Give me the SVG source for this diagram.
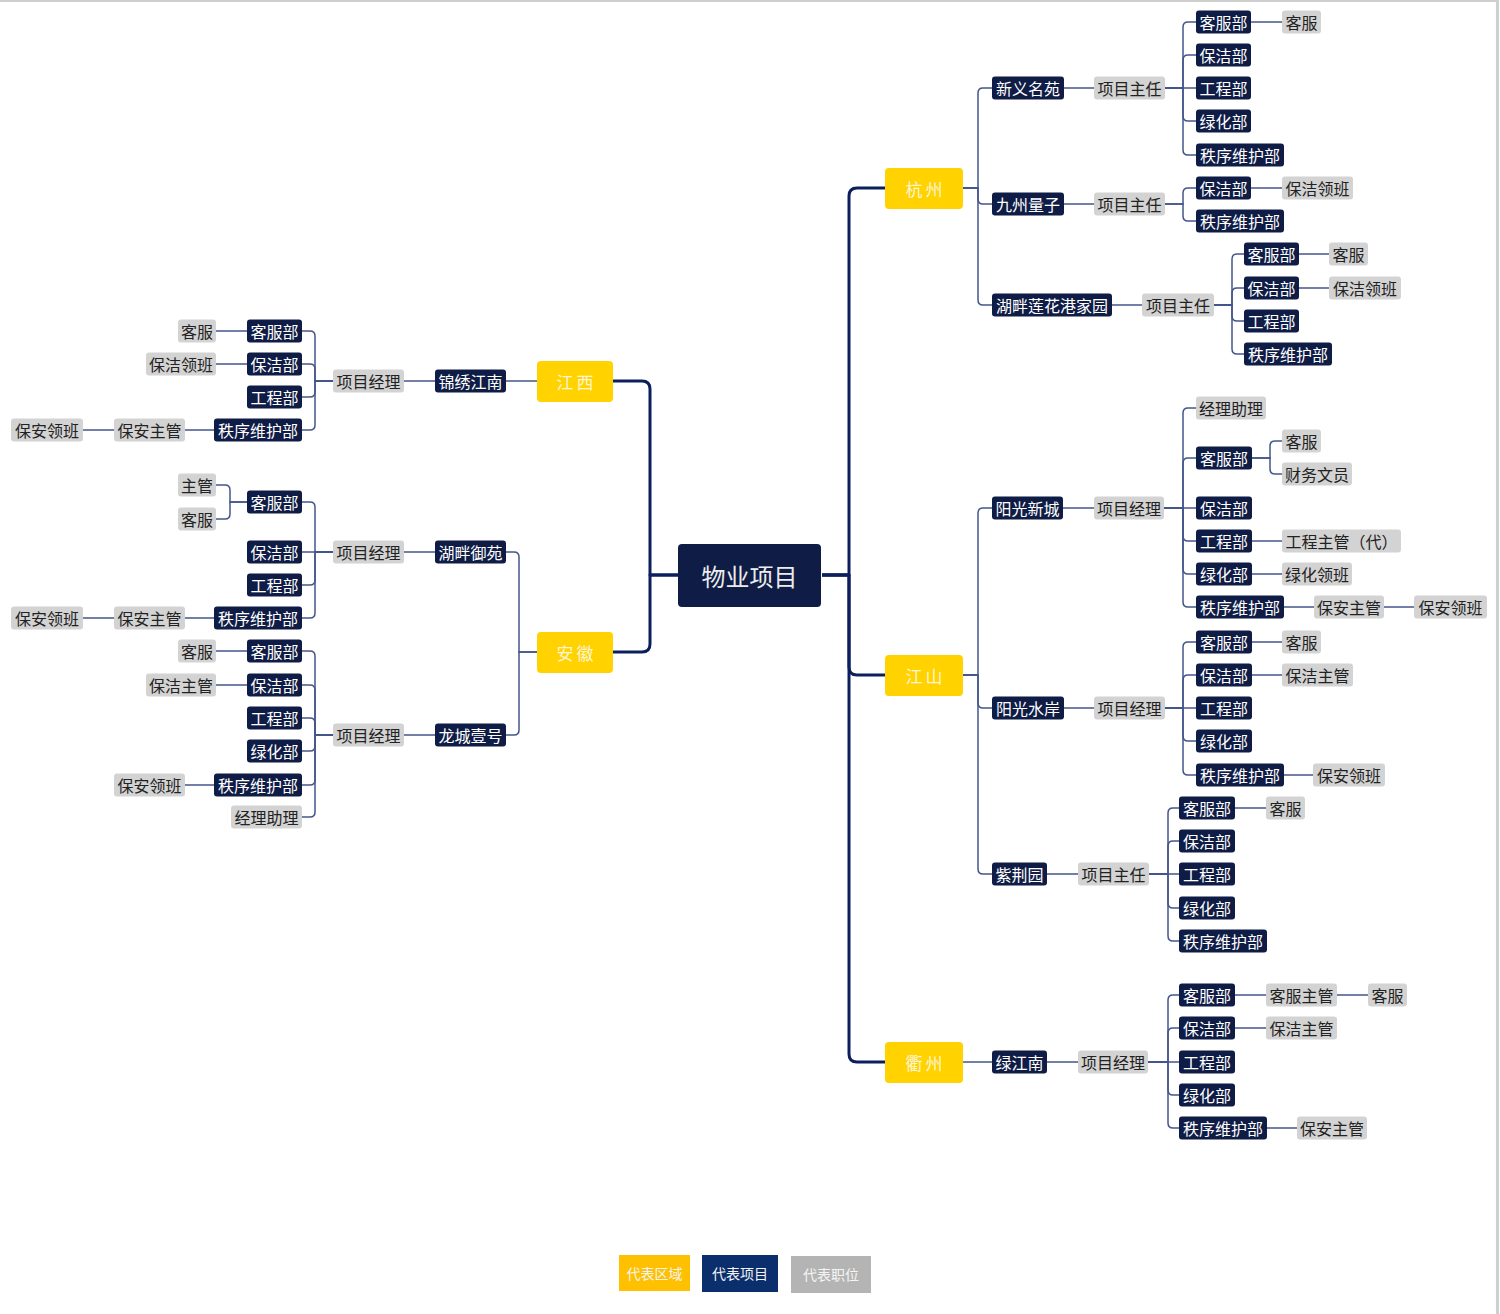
<svg xmlns="http://www.w3.org/2000/svg" width="1500" height="1314" viewBox="0 0 1500 1314">
<style>
.bg{fill:#ffffff}
.n{fill:#0f1c45}
.g{fill:#d3d3d3}
.y{fill:#ffd200}
text{font-family:"Noto Sans CJK SC","Liberation Sans",sans-serif;text-anchor:middle;dominant-baseline:central}
.tn{fill:#ffffff;font-size:16px}
.tg{fill:#222222;font-size:16px}
.ty{fill:#fff6d6;font-size:17px;letter-spacing:3px}
.thick{fill:none;stroke:#0b1f5c;stroke-width:3;stroke-linejoin:round}
.thin{fill:none;stroke:#44558a;stroke-width:1.5}
.lg{font-size:14px;fill:#f4f4f4}
</style>
<rect class="bg" x="0" y="0" width="1500" height="1314"/>
<line x1="0" y1="1" x2="1498" y2="1" stroke="#cfcfcf" stroke-width="2"/>
<line x1="1497.5" y1="0" x2="1497.5" y2="1314" stroke="#cfcfcf" stroke-width="3"/>

<g id="connectors">
<path class="thick" d="M822,575 H849 V196 Q849,188 857,188 H885"/>
<path class="thick" d="M822,575 H849 V667 Q849,675 857,675 H885"/>
<path class="thick" d="M822,575 H849 V1054 Q849,1062 857,1062 H885"/>
<path class="thick" d="M678,575 H650 V389 Q650,381 642,381 H613"/>
<path class="thick" d="M678,575 H650 V644 Q650,652 642,652 H613"/>

<path class="thin" d="M963,188 H978 V93 Q978,88 983,88 H992"/>
<path class="thin" d="M963,188 H978 V199 Q978,204 983,204 H992"/>
<path class="thin" d="M963,188 H978 V300 Q978,305 983,305 H992"/>
<path class="thin" d="M1064,88 H1094"/>
<path class="thin" d="M1165,88 H1183 V27 Q1183,22 1188,22 H1196"/>
<path class="thin" d="M1165,88 H1183 V60 Q1183,55 1188,55 H1196"/>
<path class="thin" d="M1165,88 H1196"/>
<path class="thin" d="M1165,88 H1183 V116 Q1183,121 1188,121 H1196"/>
<path class="thin" d="M1165,88 H1183 V150 Q1183,155 1188,155 H1196"/>
<path class="thin" d="M1251,22 H1282"/>
<path class="thin" d="M1064,204 H1094"/>
<path class="thin" d="M1165,204 H1183 V193 Q1183,188 1188,188 H1196"/>
<path class="thin" d="M1165,204 H1183 V216 Q1183,221 1188,221 H1196"/>
<path class="thin" d="M1251,188 H1282"/>
<path class="thin" d="M1112,305 H1142"/>
<path class="thin" d="M1214,305 H1232 V259 Q1232,254 1237,254 H1244"/>
<path class="thin" d="M1214,305 H1232 V293 Q1232,288 1237,288 H1244"/>
<path class="thin" d="M1214,305 H1232 V316 Q1232,321 1237,321 H1244"/>
<path class="thin" d="M1214,305 H1232 V349 Q1232,354 1237,354 H1244"/>
<path class="thin" d="M1299,254 H1329"/>
<path class="thin" d="M1299,288 H1329"/>

<path class="thin" d="M963,675 H978 V513 Q978,508 983,508 H992"/>
<path class="thin" d="M963,675 H978 V703 Q978,708 983,708 H992"/>
<path class="thin" d="M963,675 H978 V869 Q978,874 983,874 H992"/>
<path class="thin" d="M1063,508 H1094"/>
<path class="thin" d="M1164,508 H1183 V413 Q1183,408 1188,408 H1196"/>
<path class="thin" d="M1164,508 H1183 V463 Q1183,458 1188,458 H1196"/>
<path class="thin" d="M1164,508 H1196"/>
<path class="thin" d="M1164,508 H1183 V536 Q1183,541 1188,541 H1196"/>
<path class="thin" d="M1164,508 H1183 V569 Q1183,574 1188,574 H1196"/>
<path class="thin" d="M1164,508 H1183 V602 Q1183,607 1188,607 H1196"/>
<path class="thin" d="M1252,458 H1270 V446 Q1270,441 1275,441 H1282"/>
<path class="thin" d="M1252,458 H1270 V469 Q1270,474 1275,474 H1282"/>
<path class="thin" d="M1252,541 H1282"/>
<path class="thin" d="M1252,574 H1282"/>
<path class="thin" d="M1284,607 H1314"/>
<path class="thin" d="M1384,607 H1414"/>
<path class="thin" d="M1064,708 H1094"/>
<path class="thin" d="M1165,708 H1183 V647 Q1183,642 1188,642 H1196"/>
<path class="thin" d="M1165,708 H1183 V680 Q1183,675 1188,675 H1196"/>
<path class="thin" d="M1165,708 H1196"/>
<path class="thin" d="M1165,708 H1183 V736 Q1183,741 1188,741 H1196"/>
<path class="thin" d="M1165,708 H1183 V770 Q1183,775 1188,775 H1196"/>
<path class="thin" d="M1252,642 H1282"/>
<path class="thin" d="M1252,675 H1282"/>
<path class="thin" d="M1284,775 H1313"/>
<path class="thin" d="M1047,874 H1078"/>
<path class="thin" d="M1149,874 H1168 V813 Q1168,808 1173,808 H1179"/>
<path class="thin" d="M1149,874 H1168 V846 Q1168,841 1173,841 H1179"/>
<path class="thin" d="M1149,874 H1179"/>
<path class="thin" d="M1149,874 H1168 V903 Q1168,908 1173,908 H1179"/>
<path class="thin" d="M1149,874 H1168 V936 Q1168,941 1173,941 H1179"/>
<path class="thin" d="M1235,808 H1266"/>

<path class="thin" d="M963,1062 H992"/>
<path class="thin" d="M1047,1062 H1078"/>
<path class="thin" d="M1148,1062 H1168 V1000 Q1168,995 1173,995 H1179"/>
<path class="thin" d="M1148,1062 H1168 V1033 Q1168,1028 1173,1028 H1179"/>
<path class="thin" d="M1148,1062 H1179"/>
<path class="thin" d="M1148,1062 H1168 V1090 Q1168,1095 1173,1095 H1179"/>
<path class="thin" d="M1148,1062 H1168 V1123 Q1168,1128 1173,1128 H1179"/>
<path class="thin" d="M1235,995 H1266"/>
<path class="thin" d="M1337,995 H1368"/>
<path class="thin" d="M1235,1028 H1266"/>
<path class="thin" d="M1267,1128 H1297"/>

<path class="thin" d="M537,381 H506"/>
<path class="thin" d="M435,381 H404"/>
<path class="thin" d="M333,381 H315 V336 Q315,331 310,331 H302"/>
<path class="thin" d="M333,381 H315 V369 Q315,364 310,364 H302"/>
<path class="thin" d="M333,381 H315 V392 Q315,397 310,397 H302"/>
<path class="thin" d="M333,381 H315 V425 Q315,430 310,430 H302"/>
<path class="thin" d="M247,331 H216"/>
<path class="thin" d="M247,364 H216"/>
<path class="thin" d="M214,430 H185"/>
<path class="thin" d="M114,430 H83"/>

<path class="thin" d="M537,652 H519 V557 Q519,552 514,552 H506"/>
<path class="thin" d="M537,652 H519 V730 Q519,735 514,735 H506"/>
<path class="thin" d="M435,552 H404"/>
<path class="thin" d="M333,552 H315 V507 Q315,502 310,502 H302"/>
<path class="thin" d="M333,552 H302"/>
<path class="thin" d="M333,552 H315 V580 Q315,585 310,585 H302"/>
<path class="thin" d="M333,552 H315 V613 Q315,618 310,618 H302"/>
<path class="thin" d="M247,502 H230 V490 Q230,485 225,485 H216"/>
<path class="thin" d="M247,502 H230 V514 Q230,519 225,519 H216"/>
<path class="thin" d="M214,618 H185"/>
<path class="thin" d="M114,618 H83"/>
<path class="thin" d="M435,735 H404"/>
<path class="thin" d="M333,735 H315 V656 Q315,651 310,651 H302"/>
<path class="thin" d="M333,735 H315 V690 Q315,685 310,685 H302"/>
<path class="thin" d="M333,735 H315 V723 Q315,718 310,718 H302"/>
<path class="thin" d="M333,735 H315 V746 Q315,751 310,751 H302"/>
<path class="thin" d="M333,735 H315 V780 Q315,785 310,785 H302"/>
<path class="thin" d="M333,735 H315 V812 Q315,817 310,817 H302"/>
<path class="thin" d="M247,651 H216"/>
<path class="thin" d="M247,685 H216"/>
<path class="thin" d="M214,785 H185"/>
</g>

<g id="root"><rect class="n" x="678" y="544" width="143" height="63" rx="4"/><text x="749.5" y="575" style="fill:#ececec;font-size:24px">物业项目</text></g>

<g id="hangzhou"><rect class="y" x="885" y="168" width="78" height="41" rx="4"/><text class="ty" x="925.5" y="188.5">杭州</text></g>
<g id="jiangshan"><rect class="y" x="885" y="655" width="78" height="41" rx="4"/><text class="ty" x="925.5" y="675.5">江山</text></g>
<g id="quzhou"><rect class="y" x="885" y="1042" width="78" height="41" rx="4"/><text class="ty" x="925.5" y="1062.5">衢州</text></g>
<g id="jiangxi"><rect class="y" x="537" y="361" width="76" height="41" rx="4"/><text class="ty" x="576.5" y="381.5">江西</text></g>
<g id="anhui"><rect class="y" x="537" y="632" width="76" height="41" rx="4"/><text class="ty" x="576.5" y="652.5">安徽</text></g>

<g id="xinyi"><rect class="n" x="992" y="76.5" width="72" height="23" rx="3"/><text class="tn" x="1028" y="88">新义名苑</text></g>
<g id="xinyi-zr"><rect class="g" x="1094" y="76.5" width="71" height="23" rx="3"/><text class="tg" x="1129.5" y="88">项目主任</text></g>
<g id="xinyi-kf"><rect class="n" x="1196" y="10.5" width="55" height="23" rx="3"/><text class="tn" x="1223.5" y="22">客服部</text></g>
<g id="xinyi-kf-1"><rect class="g" x="1282" y="10.5" width="39" height="23" rx="3"/><text class="tg" x="1301.5" y="22">客服</text></g>
<g id="xinyi-bj"><rect class="n" x="1196" y="43.5" width="55" height="23" rx="3"/><text class="tn" x="1223.5" y="55">保洁部</text></g>
<g id="xinyi-gc"><rect class="n" x="1196" y="76.5" width="55" height="23" rx="3"/><text class="tn" x="1223.5" y="88">工程部</text></g>
<g id="xinyi-lh"><rect class="n" x="1196" y="109.5" width="55" height="23" rx="3"/><text class="tn" x="1223.5" y="121">绿化部</text></g>
<g id="xinyi-zx"><rect class="n" x="1196" y="143.5" width="88" height="23" rx="3"/><text class="tn" x="1240" y="155">秩序维护部</text></g>

<g id="jiuzhou"><rect class="n" x="992" y="192.5" width="72" height="23" rx="3"/><text class="tn" x="1028" y="204">九州量子</text></g>
<g id="jiuzhou-zr"><rect class="g" x="1094" y="192.5" width="71" height="23" rx="3"/><text class="tg" x="1129.5" y="204">项目主任</text></g>
<g id="jiuzhou-bj"><rect class="n" x="1196" y="176.5" width="55" height="23" rx="3"/><text class="tn" x="1223.5" y="188">保洁部</text></g>
<g id="jiuzhou-bj-1"><rect class="g" x="1282" y="176.5" width="71" height="23" rx="3"/><text class="tg" x="1317.5" y="188">保洁领班</text></g>
<g id="jiuzhou-zx"><rect class="n" x="1196" y="209.5" width="88" height="23" rx="3"/><text class="tn" x="1240" y="221">秩序维护部</text></g>

<g id="hupan"><rect class="n" x="992" y="293.5" width="120" height="23" rx="3"/><text class="tn" x="1052" y="305">湖畔莲花港家园</text></g>
<g id="hupan-zr"><rect class="g" x="1142" y="293.5" width="72" height="23" rx="3"/><text class="tg" x="1178" y="305">项目主任</text></g>
<g id="hupan-kf"><rect class="n" x="1244" y="242.5" width="55" height="23" rx="3"/><text class="tn" x="1271.5" y="254">客服部</text></g>
<g id="hupan-kf-1"><rect class="g" x="1329" y="242.5" width="39" height="23" rx="3"/><text class="tg" x="1348.5" y="254">客服</text></g>
<g id="hupan-bj"><rect class="n" x="1244" y="276.5" width="55" height="23" rx="3"/><text class="tn" x="1271.5" y="288">保洁部</text></g>
<g id="hupan-bj-1"><rect class="g" x="1329" y="276.5" width="72" height="23" rx="3"/><text class="tg" x="1365" y="288">保洁领班</text></g>
<g id="hupan-gc"><rect class="n" x="1244" y="309.5" width="55" height="23" rx="3"/><text class="tn" x="1271.5" y="321">工程部</text></g>
<g id="hupan-zx"><rect class="n" x="1244" y="342.5" width="88" height="23" rx="3"/><text class="tn" x="1288" y="354">秩序维护部</text></g>

<g id="ygxc"><rect class="n" x="992" y="496.5" width="71" height="23" rx="3"/><text class="tn" x="1027.5" y="508">阳光新城</text></g>
<g id="ygxc-jl"><rect class="g" x="1094" y="496.5" width="70" height="23" rx="3"/><text class="tg" x="1129" y="508">项目经理</text></g>
<g id="ygxc-zl"><rect class="g" x="1196" y="396.5" width="70" height="23" rx="3"/><text class="tg" x="1231" y="408">经理助理</text></g>
<g id="ygxc-kf"><rect class="n" x="1196" y="446.5" width="56" height="23" rx="3"/><text class="tn" x="1224" y="458">客服部</text></g>
<g id="ygxc-kf-1"><rect class="g" x="1282" y="429.5" width="39" height="23" rx="3"/><text class="tg" x="1301.5" y="441">客服</text></g>
<g id="ygxc-kf-2"><rect class="g" x="1282" y="462.5" width="70" height="23" rx="3"/><text class="tg" x="1317" y="474">财务文员</text></g>
<g id="ygxc-bj"><rect class="n" x="1196" y="496.5" width="56" height="23" rx="3"/><text class="tn" x="1224" y="508">保洁部</text></g>
<g id="ygxc-gc"><rect class="n" x="1196" y="529.5" width="56" height="23" rx="3"/><text class="tn" x="1224" y="541">工程部</text></g>
<g id="ygxc-gc-1"><rect class="g" x="1282" y="529.5" width="119" height="23" rx="3"/><text class="tg" x="1341.5" y="541">工程主管（代）</text></g>
<g id="ygxc-lh"><rect class="n" x="1196" y="562.5" width="56" height="23" rx="3"/><text class="tn" x="1224" y="574">绿化部</text></g>
<g id="ygxc-lh-1"><rect class="g" x="1282" y="562.5" width="70" height="23" rx="3"/><text class="tg" x="1317" y="574">绿化领班</text></g>
<g id="ygxc-zx"><rect class="n" x="1196" y="595.5" width="88" height="23" rx="3"/><text class="tn" x="1240" y="607">秩序维护部</text></g>
<g id="ygxc-zx-1"><rect class="g" x="1314" y="595.5" width="70" height="23" rx="3"/><text class="tg" x="1349" y="607">保安主管</text></g>
<g id="ygxc-zx-2"><rect class="g" x="1414" y="595.5" width="73" height="23" rx="3"/><text class="tg" x="1450.5" y="607">保安领班</text></g>

<g id="ygsa"><rect class="n" x="992" y="696.5" width="72" height="23" rx="3"/><text class="tn" x="1028" y="708">阳光水岸</text></g>
<g id="ygsa-jl"><rect class="g" x="1094" y="696.5" width="71" height="23" rx="3"/><text class="tg" x="1129.5" y="708">项目经理</text></g>
<g id="ygsa-kf"><rect class="n" x="1196" y="630.5" width="56" height="23" rx="3"/><text class="tn" x="1224" y="642">客服部</text></g>
<g id="ygsa-kf-1"><rect class="g" x="1282" y="630.5" width="39" height="23" rx="3"/><text class="tg" x="1301.5" y="642">客服</text></g>
<g id="ygsa-bj"><rect class="n" x="1196" y="663.5" width="56" height="23" rx="3"/><text class="tn" x="1224" y="675">保洁部</text></g>
<g id="ygsa-bj-1"><rect class="g" x="1282" y="663.5" width="71" height="23" rx="3"/><text class="tg" x="1317.5" y="675">保洁主管</text></g>
<g id="ygsa-gc"><rect class="n" x="1196" y="696.5" width="56" height="23" rx="3"/><text class="tn" x="1224" y="708">工程部</text></g>
<g id="ygsa-lh"><rect class="n" x="1196" y="729.5" width="56" height="23" rx="3"/><text class="tn" x="1224" y="741">绿化部</text></g>
<g id="ygsa-zx"><rect class="n" x="1196" y="763.5" width="88" height="23" rx="3"/><text class="tn" x="1240" y="775">秩序维护部</text></g>
<g id="ygsa-zx-1"><rect class="g" x="1313" y="763.5" width="72" height="23" rx="3"/><text class="tg" x="1349" y="775">保安领班</text></g>

<g id="zjy"><rect class="n" x="992" y="862.5" width="55" height="23" rx="3"/><text class="tn" x="1019.5" y="874">紫荆园</text></g>
<g id="zjy-zr"><rect class="g" x="1078" y="862.5" width="71" height="23" rx="3"/><text class="tg" x="1113.5" y="874">项目主任</text></g>
<g id="zjy-kf"><rect class="n" x="1179" y="796.5" width="56" height="23" rx="3"/><text class="tn" x="1207" y="808">客服部</text></g>
<g id="zjy-kf-1"><rect class="g" x="1266" y="796.5" width="39" height="23" rx="3"/><text class="tg" x="1285.5" y="808">客服</text></g>
<g id="zjy-bj"><rect class="n" x="1179" y="829.5" width="56" height="23" rx="3"/><text class="tn" x="1207" y="841">保洁部</text></g>
<g id="zjy-gc"><rect class="n" x="1179" y="862.5" width="56" height="23" rx="3"/><text class="tn" x="1207" y="874">工程部</text></g>
<g id="zjy-lh"><rect class="n" x="1179" y="896.5" width="56" height="23" rx="3"/><text class="tn" x="1207" y="908">绿化部</text></g>
<g id="zjy-zx"><rect class="n" x="1179" y="929.5" width="88" height="23" rx="3"/><text class="tn" x="1223" y="941">秩序维护部</text></g>

<g id="ljn"><rect class="n" x="992" y="1050.5" width="55" height="23" rx="3"/><text class="tn" x="1019.5" y="1062">绿江南</text></g>
<g id="ljn-jl"><rect class="g" x="1078" y="1050.5" width="70" height="23" rx="3"/><text class="tg" x="1113" y="1062">项目经理</text></g>
<g id="ljn-kf"><rect class="n" x="1179" y="983.5" width="56" height="23" rx="3"/><text class="tn" x="1207" y="995">客服部</text></g>
<g id="ljn-kf-1"><rect class="g" x="1266" y="983.5" width="71" height="23" rx="3"/><text class="tg" x="1301.5" y="995">客服主管</text></g>
<g id="ljn-kf-2"><rect class="g" x="1368" y="983.5" width="39" height="23" rx="3"/><text class="tg" x="1387.5" y="995">客服</text></g>
<g id="ljn-bj"><rect class="n" x="1179" y="1016.5" width="56" height="23" rx="3"/><text class="tn" x="1207" y="1028">保洁部</text></g>
<g id="ljn-bj-1"><rect class="g" x="1266" y="1016.5" width="71" height="23" rx="3"/><text class="tg" x="1301.5" y="1028">保洁主管</text></g>
<g id="ljn-gc"><rect class="n" x="1179" y="1050.5" width="56" height="23" rx="3"/><text class="tn" x="1207" y="1062">工程部</text></g>
<g id="ljn-lh"><rect class="n" x="1179" y="1083.5" width="56" height="23" rx="3"/><text class="tn" x="1207" y="1095">绿化部</text></g>
<g id="ljn-zx"><rect class="n" x="1179" y="1116.5" width="88" height="23" rx="3"/><text class="tn" x="1223" y="1128">秩序维护部</text></g>
<g id="ljn-zx-1"><rect class="g" x="1297" y="1116.5" width="70" height="23" rx="3"/><text class="tg" x="1332" y="1128">保安主管</text></g>

<g id="jxjn"><rect class="n" x="435" y="369.5" width="71" height="23" rx="3"/><text class="tn" x="470.5" y="381">锦绣江南</text></g>
<g id="jxjn-jl"><rect class="g" x="333" y="369.5" width="71" height="23" rx="3"/><text class="tg" x="368.5" y="381">项目经理</text></g>
<g id="jxjn-kf"><rect class="n" x="247" y="319.5" width="55" height="23" rx="3"/><text class="tn" x="274.5" y="331">客服部</text></g>
<g id="jxjn-kf-1"><rect class="g" x="178" y="319.5" width="38" height="23" rx="3"/><text class="tg" x="197" y="331">客服</text></g>
<g id="jxjn-bj"><rect class="n" x="247" y="352.5" width="55" height="23" rx="3"/><text class="tn" x="274.5" y="364">保洁部</text></g>
<g id="jxjn-bj-1"><rect class="g" x="146" y="352.5" width="70" height="23" rx="3"/><text class="tg" x="181" y="364">保洁领班</text></g>
<g id="jxjn-gc"><rect class="n" x="247" y="385.5" width="55" height="23" rx="3"/><text class="tn" x="274.5" y="397">工程部</text></g>
<g id="jxjn-zx"><rect class="n" x="214" y="418.5" width="88" height="23" rx="3"/><text class="tn" x="258" y="430">秩序维护部</text></g>
<g id="jxjn-zx-1"><rect class="g" x="114" y="418.5" width="71" height="23" rx="3"/><text class="tg" x="149.5" y="430">保安主管</text></g>
<g id="jxjn-zx-2"><rect class="g" x="11" y="418.5" width="72" height="23" rx="3"/><text class="tg" x="47" y="430">保安领班</text></g>

<g id="hpyy"><rect class="n" x="435" y="540.5" width="71" height="23" rx="3"/><text class="tn" x="470.5" y="552">湖畔御苑</text></g>
<g id="hpyy-jl"><rect class="g" x="333" y="540.5" width="71" height="23" rx="3"/><text class="tg" x="368.5" y="552">项目经理</text></g>
<g id="hpyy-kf"><rect class="n" x="247" y="490.5" width="55" height="23" rx="3"/><text class="tn" x="274.5" y="502">客服部</text></g>
<g id="hpyy-kf-1"><rect class="g" x="178" y="473.5" width="38" height="23" rx="3"/><text class="tg" x="197" y="485">主管</text></g>
<g id="hpyy-kf-2"><rect class="g" x="178" y="507.5" width="38" height="23" rx="3"/><text class="tg" x="197" y="519">客服</text></g>
<g id="hpyy-bj"><rect class="n" x="247" y="540.5" width="55" height="23" rx="3"/><text class="tn" x="274.5" y="552">保洁部</text></g>
<g id="hpyy-gc"><rect class="n" x="247" y="573.5" width="55" height="23" rx="3"/><text class="tn" x="274.5" y="585">工程部</text></g>
<g id="hpyy-zx"><rect class="n" x="214" y="606.5" width="88" height="23" rx="3"/><text class="tn" x="258" y="618">秩序维护部</text></g>
<g id="hpyy-zx-1"><rect class="g" x="114" y="606.5" width="71" height="23" rx="3"/><text class="tg" x="149.5" y="618">保安主管</text></g>
<g id="hpyy-zx-2"><rect class="g" x="11" y="606.5" width="72" height="23" rx="3"/><text class="tg" x="47" y="618">保安领班</text></g>

<g id="lcyh"><rect class="n" x="435" y="723.5" width="71" height="23" rx="3"/><text class="tn" x="470.5" y="735">龙城壹号</text></g>
<g id="lcyh-jl"><rect class="g" x="333" y="723.5" width="71" height="23" rx="3"/><text class="tg" x="368.5" y="735">项目经理</text></g>
<g id="lcyh-kf"><rect class="n" x="247" y="639.5" width="55" height="23" rx="3"/><text class="tn" x="274.5" y="651">客服部</text></g>
<g id="lcyh-kf-1"><rect class="g" x="178" y="639.5" width="38" height="23" rx="3"/><text class="tg" x="197" y="651">客服</text></g>
<g id="lcyh-bj"><rect class="n" x="247" y="673.5" width="55" height="23" rx="3"/><text class="tn" x="274.5" y="685">保洁部</text></g>
<g id="lcyh-bj-1"><rect class="g" x="146" y="673.5" width="70" height="23" rx="3"/><text class="tg" x="181" y="685">保洁主管</text></g>
<g id="lcyh-gc"><rect class="n" x="247" y="706.5" width="55" height="23" rx="3"/><text class="tn" x="274.5" y="718">工程部</text></g>
<g id="lcyh-lh"><rect class="n" x="247" y="739.5" width="55" height="23" rx="3"/><text class="tn" x="274.5" y="751">绿化部</text></g>
<g id="lcyh-zx"><rect class="n" x="214" y="773.5" width="88" height="23" rx="3"/><text class="tn" x="258" y="785">秩序维护部</text></g>
<g id="lcyh-zx-1"><rect class="g" x="114" y="773.5" width="71" height="23" rx="3"/><text class="tg" x="149.5" y="785">保安领班</text></g>
<g id="lcyh-zl"><rect class="g" x="231" y="805.5" width="71" height="23" rx="3"/><text class="tg" x="266.5" y="817">经理助理</text></g>

<g id="legend">
<rect x="619" y="1255" width="71" height="36" fill="#ffc000"/><text class="lg" x="654.5" y="1273">代表区域</text>
<rect x="702" y="1255" width="76" height="37" fill="#0b2e6c"/><text class="lg" x="740" y="1273">代表项目</text>
<rect x="791" y="1256" width="80" height="37" fill="#b4b4b4"/><text class="lg" x="831" y="1274">代表职位</text>
</g>
</svg>
